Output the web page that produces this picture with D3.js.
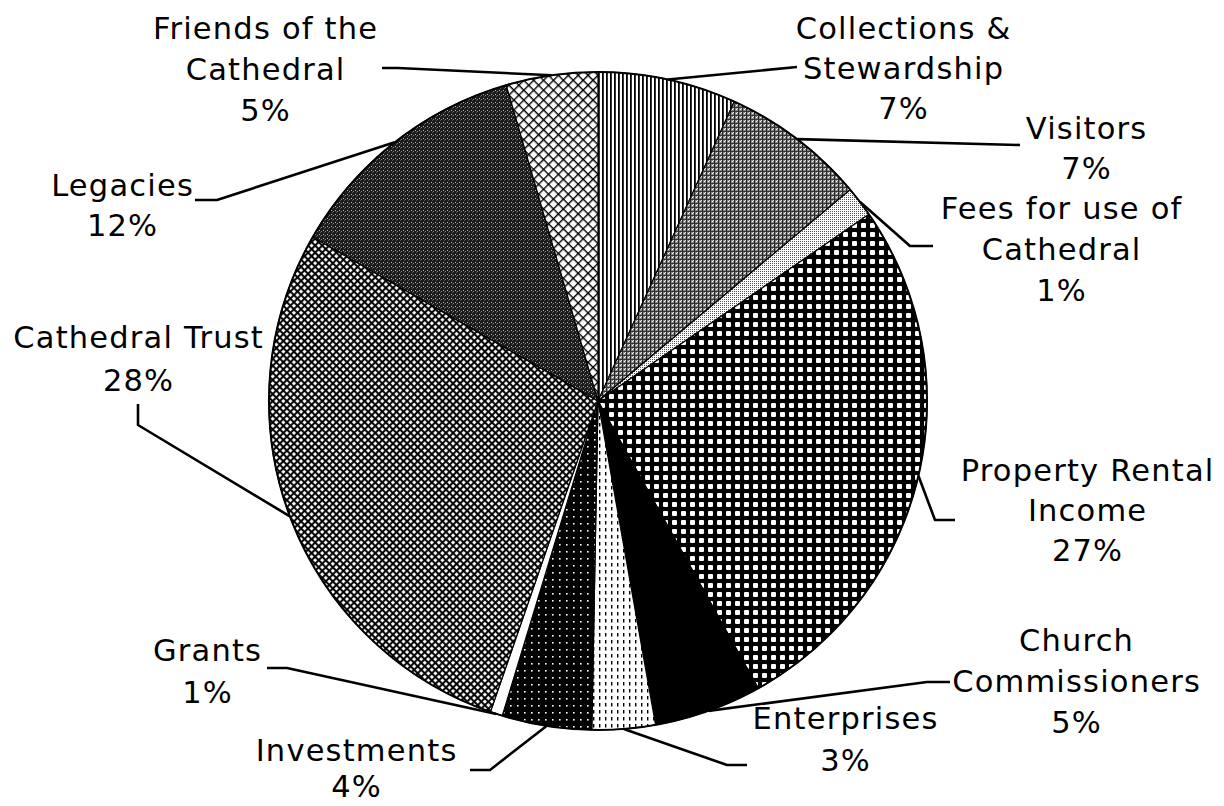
<!DOCTYPE html>
<html><head><meta charset="utf-8">
<script src="https://cdn.jsdelivr.net/npm/d3@7"></script>
<style>html,body{margin:0;padding:0;background:#fff;}svg{display:block;}</style>
</head><body>
<svg id="chart" width="1224" height="806"></svg>
<script>
// ---- data ----
const categories = ["Collections & Stewardship","Visitors","Fees for use of Cathedral","Property Rental Income","Church Commissioners","Enterprises","Investments","Grants","Cathedral Trust","Legacies","Friends of the Cathedral"];
const values = [6.8, 7.1, 1.5, 26.5, 5.3, 3.1, 4.4, 0.6, 28.0, 12.2, 4.5];
const pctLabels = ["7%","7%","1%","27%","5%","3%","4%","1%","28%","12%","5%"];
const labelLines = [["Collections &","Stewardship"],["Visitors"],["Fees for use of","Cathedral"],["Property Rental","Income"],["Church","Commissioners"],["Enterprises"],["Investments"],["Grants"],["Cathedral Trust"],["Legacies"],["Friends of the","Cathedral"]];

// ---- layout (label anchors and leader-line bends) ----
const labelPos = [[903,28],[1086,128],[1061,208],[1087,470],[1076,640],[845,718],[356,750],[207,650],[138,337],[122,185],[265,28]];
const lineGap = [40,40,41,40,41,42,36,42,43,40,41];
const leaderBends = [
  [[797,67]],
  [[1020,145]],
  [[910,246],[933,246]],
  [[935,520],[955,520]],
  [[927,682],[950,682]],
  [[727,765],[747,765]],
  [[490,770],[470,770]],
  [[287,668],[267,668]],
  [[138,425],[138,404]],
  [[217,200],[195,200]],
  [[398,68],[382,68]]
];

const svg = d3.select("#chart");
const cx = 598, cy = 401, R = 329;
const defs = svg.append("defs");

function pat(id, w, h, rot) {
  const p = defs.append("pattern").attr("id", id).attr("patternUnits","userSpaceOnUse")
    .attr("width", w).attr("height", h);
  if (rot) p.attr("patternTransform", "rotate(" + rot + ")");
  return p;
}
// Collections: vertical lines
let p = pat("pColl", 4, 4);
p.append("rect").attr("width",4).attr("height",4).attr("fill","#fff");
p.append("rect").attr("x",0).attr("width",1.8).attr("height",4).attr("fill","#000");
// Visitors: noisy grey
p = pat("pVis", 4, 4);
p.append("rect").attr("width",4).attr("height",4).attr("fill","#888");
p.append("rect").attr("x",0).attr("y",0).attr("width",1).attr("height",4).attr("fill","#222");
p.append("rect").attr("x",0).attr("y",2).attr("width",4).attr("height",1).attr("fill","#333");
p.append("rect").attr("x",2).attr("y",0).attr("width",1).attr("height",1).attr("fill","#fff");
p.append("rect").attr("x",3).attr("y",3).attr("width",1).attr("height",1).attr("fill","#eee");
// Fees: fine light dots
p = pat("pFees", 2, 2);
p.append("rect").attr("width",2).attr("height",2).attr("fill","#fff");
p.append("rect").attr("width",1).attr("height",1).attr("fill","#555");
// Property: black grid with white squares
p = pat("pProp", 9, 9);
p.append("rect").attr("width",9).attr("height",9).attr("fill","#000");
p.append("rect").attr("x",2).attr("y",2).attr("width",5).attr("height",5).attr("rx",1).attr("fill","#fff");
// Enterprises: white with small vertical dashes
p = pat("pEnt", 6, 7);
p.append("rect").attr("width",6).attr("height",7).attr("fill","#fff");
p.append("rect").attr("x",1).attr("y",1).attr("width",1.4).attr("height",3.5).attr("fill","#000");
// Investments: black with small white dots
p = pat("pInv", 7, 7);
p.append("rect").attr("width",7).attr("height",7).attr("fill","#000");
p.append("rect").attr("x",3).attr("y",3).attr("width",1.6).attr("height",1.6).attr("fill","#fff");
// Cathedral Trust: black with white diamonds
p = pat("pTrust", 5, 5, 45);
p.append("rect").attr("width",5).attr("height",5).attr("fill","#000");
p.append("rect").attr("x",1.1).attr("y",1.1).attr("width",3.0).attr("height",3.0).attr("fill","#fff");
// Legacies: very dark noisy
p = pat("pLeg", 4, 4);
p.append("rect").attr("width",4).attr("height",4).attr("fill","#1a1a1a");
p.append("rect").attr("x",1).attr("y",1).attr("width",1).attr("height",1).attr("fill","#bbb");
p.append("rect").attr("x",3).attr("y",2).attr("width",1).attr("height",1).attr("fill","#888");
p.append("rect").attr("x",2).attr("y",3).attr("width",1).attr("height",1).attr("fill","#555");
// Friends: light diagonal crosshatch
p = pat("pFri", 7, 7, 45);
p.append("rect").attr("width",7).attr("height",7).attr("fill","#fff");
p.append("rect").attr("width",7).attr("height",1.4).attr("fill","#000");
p.append("rect").attr("width",1.4).attr("height",7).attr("fill","#000");

const fills = ["url(#pColl)","url(#pVis)","url(#pFees)","url(#pProp)","#000","url(#pEnt)","url(#pInv)","#fff","url(#pTrust)","url(#pLeg)","url(#pFri)"];

const data = categories.map((c,i)=>({name:c, value:values[i], i}));
const pie = d3.pie().sort(null).value(d=>d.value).startAngle(0).endAngle(2*Math.PI);
const arcs = pie(data);
const arc = d3.arc().innerRadius(0).outerRadius(R);
const edge = d3.arc().innerRadius(R).outerRadius(R);

const g = svg.append("g").attr("transform", `translate(${cx},${cy})`);
g.selectAll("path.slice").data(arcs).join("path")
  .attr("class","slice")
  .attr("d", arc)
  .attr("fill", d=>fills[d.data.i])
  .attr("stroke","#000").attr("stroke-width",1.2).attr("stroke-linejoin","round");
g.append("circle").attr("r",R).attr("fill","none").attr("stroke","#000").attr("stroke-width",2);

// leader lines
const line = d3.line();
svg.append("g").selectAll("path.leader").data(arcs).join("path")
  .attr("class","leader")
  .attr("d", d=>{
    const c = edge.centroid(d);
    const pts = [[cx+c[0], cy+c[1]]].concat(leaderBends[d.data.i]);
    return line(pts);
  })
  .attr("fill","none").attr("stroke","#000").attr("stroke-width",2.6).attr("stroke-linejoin","round");

// labels
const fs = 30.5;
const lbl = svg.append("g").attr("font-family","'DejaVu Sans', Verdana, sans-serif").attr("font-size",fs)
  .attr("letter-spacing","1.2px").attr("fill","#000").attr("text-anchor","middle");
arcs.forEach(d=>{
  const i = d.data.i;
  const lines = labelLines[i].concat([pctLabels[i]]);
  const t = lbl.append("text").attr("x", labelPos[i][0]).attr("y", labelPos[i][1]);
  lines.forEach((s,k)=>{
    t.append("tspan").attr("x", labelPos[i][0] + 0.6).attr("y", labelPos[i][1] + k*lineGap[i]).attr("dy","0.36em").text(s);
  });
});
</script>
</body></html>
